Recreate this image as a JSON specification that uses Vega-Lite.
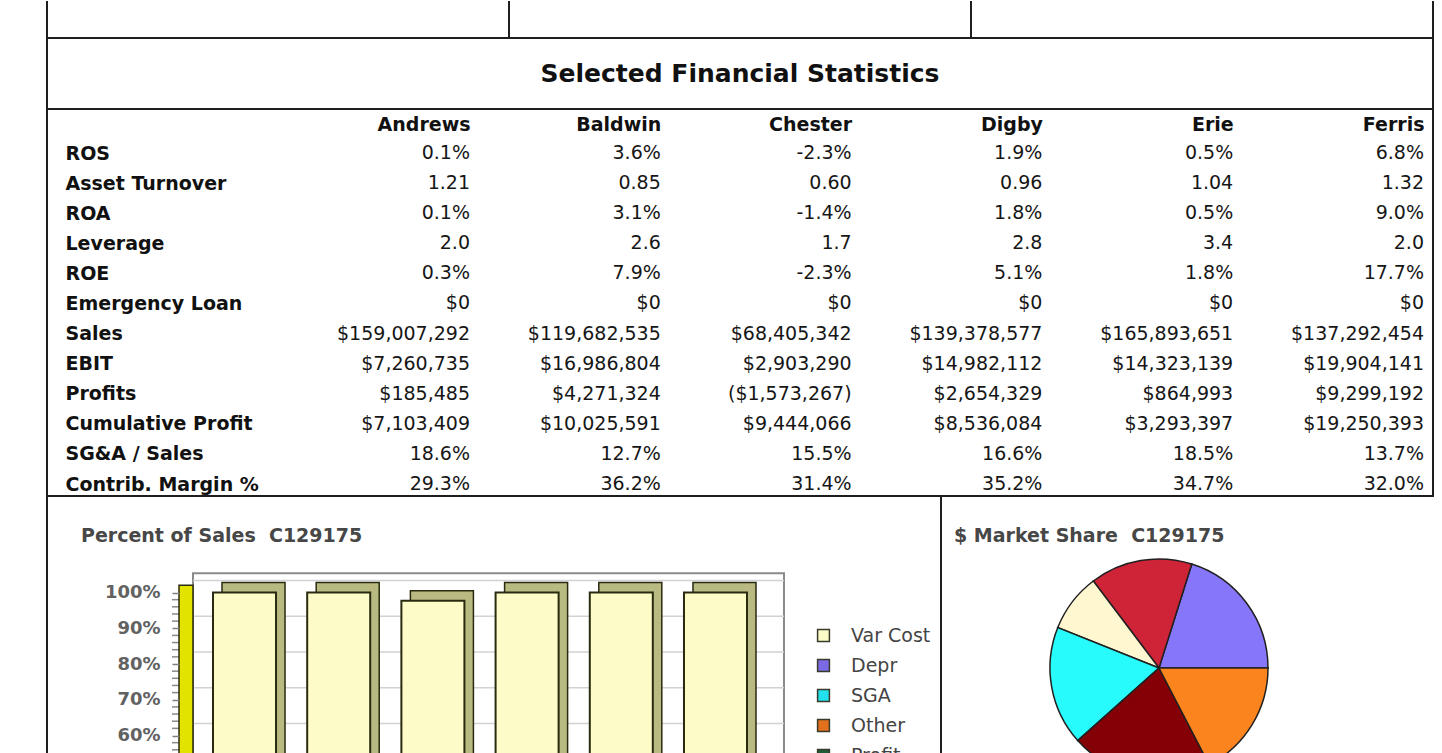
{
  "$schema": "https://vega.github.io/schema/vega-lite/v6.json",
  "background": "#ffffff",
  "padding": {"left": 46, "top": 0, "right": 0, "bottom": 0},
  "spacing": 0,
  "bounds": "flush",
  "config": {"font": "DejaVu Sans", "view": {"stroke": "#1e1e1e", "strokeWidth": 2}},
  "resolve": {"scale": {"color": "independent"}, "legend": {"color": "independent"}},
  "datasets": {
    "fin": [
      {"metric": "ROS", "Andrews": "0.1%", "Baldwin": "3.6%", "Chester": "-2.3%", "Digby": "1.9%", "Erie": "0.5%", "Ferris": "6.8%"},
      {"metric": "Asset Turnover", "Andrews": "1.21", "Baldwin": "0.85", "Chester": "0.60", "Digby": "0.96", "Erie": "1.04", "Ferris": "1.32"},
      {"metric": "ROA", "Andrews": "0.1%", "Baldwin": "3.1%", "Chester": "-1.4%", "Digby": "1.8%", "Erie": "0.5%", "Ferris": "9.0%"},
      {"metric": "Leverage", "Andrews": "2.0", "Baldwin": "2.6", "Chester": "1.7", "Digby": "2.8", "Erie": "3.4", "Ferris": "2.0"},
      {"metric": "ROE", "Andrews": "0.3%", "Baldwin": "7.9%", "Chester": "-2.3%", "Digby": "5.1%", "Erie": "1.8%", "Ferris": "17.7%"},
      {"metric": "Emergency Loan", "Andrews": "$0", "Baldwin": "$0", "Chester": "$0", "Digby": "$0", "Erie": "$0", "Ferris": "$0"},
      {"metric": "Sales", "Andrews": "$159,007,292", "Baldwin": "$119,682,535", "Chester": "$68,405,342", "Digby": "$139,378,577", "Erie": "$165,893,651", "Ferris": "$137,292,454"},
      {"metric": "EBIT", "Andrews": "$7,260,735", "Baldwin": "$16,986,804", "Chester": "$2,903,290", "Digby": "$14,982,112", "Erie": "$14,323,139", "Ferris": "$19,904,141"},
      {"metric": "Profits", "Andrews": "$185,485", "Baldwin": "$4,271,324", "Chester": "($1,573,267)", "Digby": "$2,654,329", "Erie": "$864,993", "Ferris": "$9,299,192"},
      {"metric": "Cumulative Profit", "Andrews": "$7,103,409", "Baldwin": "$10,025,591", "Chester": "$9,444,066", "Digby": "$8,536,084", "Erie": "$3,293,397", "Ferris": "$19,250,393"},
      {"metric": "SG&A / Sales", "Andrews": "18.6%", "Baldwin": "12.7%", "Chester": "15.5%", "Digby": "16.6%", "Erie": "18.5%", "Ferris": "13.7%"},
      {"metric": "Contrib. Margin %", "Andrews": "29.3%", "Baldwin": "36.2%", "Chester": "31.4%", "Digby": "35.2%", "Erie": "34.7%", "Ferris": "32.0%"}
    ],
    "cost": [
      {"company": "Andrews", "component": "Var Cost", "pct": 70.7},
      {"company": "Andrews", "component": "Depr", "pct": 6.5},
      {"company": "Andrews", "component": "SGA", "pct": 18.6},
      {"company": "Andrews", "component": "Other", "pct": 4.1},
      {"company": "Andrews", "component": "Profit", "pct": 0.1},
      {"company": "Baldwin", "component": "Var Cost", "pct": 63.8},
      {"company": "Baldwin", "component": "Depr", "pct": 10.6},
      {"company": "Baldwin", "component": "SGA", "pct": 12.7},
      {"company": "Baldwin", "component": "Other", "pct": 9.3},
      {"company": "Baldwin", "component": "Profit", "pct": 3.6},
      {"company": "Chester", "component": "Var Cost", "pct": 68.6},
      {"company": "Chester", "component": "Depr", "pct": 8.4},
      {"company": "Chester", "component": "SGA", "pct": 15.5},
      {"company": "Chester", "component": "Other", "pct": 5.2},
      {"company": "Chester", "component": "Profit", "pct": -2.3},
      {"company": "Digby", "component": "Var Cost", "pct": 64.8},
      {"company": "Digby", "component": "Depr", "pct": 9.0},
      {"company": "Digby", "component": "SGA", "pct": 16.6},
      {"company": "Digby", "component": "Other", "pct": 7.7},
      {"company": "Digby", "component": "Profit", "pct": 1.9},
      {"company": "Erie", "component": "Var Cost", "pct": 65.3},
      {"company": "Erie", "component": "Depr", "pct": 8.2},
      {"company": "Erie", "component": "SGA", "pct": 18.5},
      {"company": "Erie", "component": "Other", "pct": 7.5},
      {"company": "Erie", "component": "Profit", "pct": 0.5},
      {"company": "Ferris", "component": "Var Cost", "pct": 68.0},
      {"company": "Ferris", "component": "Depr", "pct": 7.0},
      {"company": "Ferris", "component": "SGA", "pct": 13.7},
      {"company": "Ferris", "component": "Other", "pct": 4.5},
      {"company": "Ferris", "component": "Profit", "pct": 6.8}
    ],
    "share": [
      {"company": "Andrews", "sales": 159007292},
      {"company": "Baldwin", "sales": 119682535},
      {"company": "Chester", "sales": 68405342},
      {"company": "Digby", "sales": 139378577},
      {"company": "Erie", "sales": 165893651},
      {"company": "Ferris", "sales": 137292454}
    ],
    "minor": [
      {"level": 2}, {"level": 4}, {"level": 6}, {"level": 8}, {"level": 12}, {"level": 14}, {"level": 16}, {"level": 18},
      {"level": 22}, {"level": 24}, {"level": 26}, {"level": 28}, {"level": 32}, {"level": 34}, {"level": 36}, {"level": 38},
      {"level": 42}, {"level": 44}, {"level": 46}, {"level": 48}, {"level": 52}, {"level": 54}, {"level": 56}, {"level": 58},
      {"level": 62}, {"level": 64}, {"level": 66}, {"level": 68}, {"level": 72}, {"level": 74}, {"level": 76}, {"level": 78},
      {"level": 82}, {"level": 84}, {"level": 86}, {"level": 88}, {"level": 92}, {"level": 94}, {"level": 96}, {"level": 98}
    ]
  },
  "vconcat": [
    {
      "width": 1386,
      "height": 37,
      "view": {"stroke": null},
      "data": {"values": [{"edge": 0}, {"edge": 1}, {"edge": 2}, {"edge": 3}]},
      "mark": {"type": "rule", "color": "#1e1e1e", "strokeWidth": 2},
      "encoding": {
        "x": {"field": "edge", "type": "quantitative", "scale": {"domain": [0, 3], "nice": false, "zero": false}, "axis": null}
      }
    },
    {
      "width": 1386,
      "height": 71,
      "data": {"values": [{"heading": "Selected Financial Statistics"}]},
      "mark": {"type": "text", "fontSize": 25, "fontWeight": "bold", "color": "#111111", "align": "center", "baseline": "middle"},
      "encoding": {
        "x": {"field": "heading", "type": "nominal", "axis": null},
        "y": {"field": "heading", "type": "nominal", "axis": null},
        "text": {"field": "heading", "type": "nominal"}
      }
    },
    {
      "width": 1386,
      "height": 387,
      "data": {"name": "fin"},
      "transform": [{"fold": ["Andrews", "Baldwin", "Chester", "Digby", "Erie", "Ferris"], "as": ["company", "value"]}],
      "mark": {"type": "text", "align": "right", "baseline": "middle", "fontSize": 19, "color": "#161616"},
      "encoding": {
        "x": {
          "field": "company", "type": "nominal",
          "scale": {"type": "point", "domain": ["Andrews", "Baldwin", "Chester", "Digby", "Erie", "Ferris"], "range": [423, 1377], "padding": 0},
          "axis": {"orient": "top", "title": null, "offset": -15, "ticks": false, "tickSize": 0, "domain": false, "grid": false, "labelAngle": 0, "labelPadding": 0, "labelAlign": "right", "labelBaseline": "middle", "labelFontSize": 19, "labelFontWeight": "bold", "labelColor": "#111111", "labelOverlap": false, "labelLimit": 400}
        },
        "y": {
          "field": "metric", "type": "nominal",
          "scale": {"type": "point", "domain": ["ROS", "Asset Turnover", "ROA", "Leverage", "ROE", "Emergency Loan", "Sales", "EBIT", "Profits", "Cumulative Profit", "SG&A / Sales", "Contrib. Margin %"], "padding": 0.9305, "align": 0.786},
          "axis": {"orient": "left", "title": null, "offset": -18, "ticks": false, "tickSize": 0, "domain": false, "grid": false, "labelAngle": 0, "labelPadding": 0, "labelAlign": "left", "labelBaseline": "middle", "labelFontSize": 19, "labelFontWeight": "bold", "labelColor": "#111111", "labelOverlap": false, "labelLimit": 400}
        },
        "text": {"field": "value", "type": "nominal"}
      }
    },
    {
      "spacing": 0,
      "bounds": "flush",
      "resolve": {"scale": {"color": "independent"}, "legend": {"color": "independent"}},
      "hconcat": [
        {
          "width": 894,
          "height": 454,
          "title": {"text": "Percent of Sales\u00a0 C129175", "anchor": "start", "frame": "group", "orient": "top", "offset": -59, "dx": 34, "fontSize": 19, "fontWeight": "bold", "color": "#474747", "baseline": "middle"},
          "layer": [
            {
              "data": {"values": [{"part": "back wall"}]},
              "mark": {"type": "rect", "fill": "#ffffff", "stroke": "#8a8a8a", "strokeWidth": 2, "xOffset": -20, "x2Offset": 100, "yOffset": -12, "y2Offset": -12},
              "encoding": {
                "x": {"datum": "Andrews", "type": "nominal", "bandPosition": 0, "scale": {"type": "band", "domain": ["Andrews", "Baldwin", "Chester", "Digby", "Erie", "Ferris"], "range": [166, 700], "paddingInner": 0.331, "paddingOuter": 0}, "axis": null},
                "x2": {"datum": "Ferris", "bandPosition": 0},
                "y": {"datum": 102, "type": "quantitative", "scale": {"domain": [0, 127], "nice": false, "zero": true}},
                "y2": {"datum": 0}
              }
            },
            {
              "data": {"values": [{"level": 10}, {"level": 20}, {"level": 30}, {"level": 40}, {"level": 50}, {"level": 60}, {"level": 70}, {"level": 80}, {"level": 90}, {"level": 100}]},
              "mark": {"type": "rule", "color": "#d2d2d2", "strokeWidth": 1.5, "xOffset": -20, "x2Offset": 100, "yOffset": -12},
              "encoding": {
                "x": {"datum": "Andrews", "type": "nominal", "bandPosition": 0, "scale": {"type": "band", "domain": ["Andrews", "Baldwin", "Chester", "Digby", "Erie", "Ferris"], "range": [166, 700], "paddingInner": 0.331, "paddingOuter": 0}, "axis": null},
                "x2": {"datum": "Ferris", "bandPosition": 0},
                "y": {"field": "level", "type": "quantitative", "scale": {"domain": [0, 127], "nice": false, "zero": true}}
              }
            },
            {
              "data": {"name": "minor"},
              "mark": {"type": "rule", "color": "#8a8a8a", "strokeWidth": 1.5, "xOffset": -41, "x2Offset": -34},
              "encoding": {
                "x": {"datum": "Andrews", "type": "nominal", "bandPosition": 0, "scale": {"type": "band", "domain": ["Andrews", "Baldwin", "Chester", "Digby", "Erie", "Ferris"], "range": [166, 700], "paddingInner": 0.331, "paddingOuter": 0}, "axis": null},
                "x2": {"datum": "Andrews", "bandPosition": 0},
                "y": {"field": "level", "type": "quantitative", "scale": {"domain": [0, 127], "nice": false, "zero": true}}
              }
            },
            {
              "data": {"values": [{"part": "side wall"}]},
              "mark": {"type": "rect", "fill": "#e3e300", "stroke": "#2a2a10", "strokeWidth": 1.5, "xOffset": -34, "x2Offset": -20},
              "encoding": {
                "x": {"datum": "Andrews", "type": "nominal", "bandPosition": 0, "scale": {"type": "band", "domain": ["Andrews", "Baldwin", "Chester", "Digby", "Erie", "Ferris"], "range": [166, 700], "paddingInner": 0.331, "paddingOuter": 0}, "axis": null},
                "x2": {"datum": "Andrews", "bandPosition": 0},
                "y": {"datum": 102, "type": "quantitative", "scale": {"domain": [0, 127], "nice": false, "zero": true}},
                "y2": {"datum": 0}
              }
            },
            {
              "data": {"name": "cost"},
              "mark": {"type": "bar", "fill": "#b9b982", "stroke": "#2a2a10", "strokeWidth": 1.5, "xOffset": 9, "x2Offset": 9, "yOffset": -10, "y2Offset": -10},
              "encoding": {
                "x": {"field": "company", "type": "nominal", "scale": {"type": "band", "domain": ["Andrews", "Baldwin", "Chester", "Digby", "Erie", "Ferris"], "range": [166, 700], "paddingInner": 0.331, "paddingOuter": 0}, "axis": null},
                "y": {"field": "pct", "type": "quantitative", "stack": "zero", "scale": {"domain": [0, 127], "nice": false, "zero": true}},
                "detail": {"field": "component", "type": "nominal"},
                "order": {"field": "component", "sort": "ascending"}
              }
            },
            {
              "data": {"name": "cost"},
              "mark": {"type": "bar", "stroke": "#2a2a10", "strokeWidth": 2, "opacity": 1},
              "encoding": {
                "x": {"field": "company", "type": "nominal", "scale": {"type": "band", "domain": ["Andrews", "Baldwin", "Chester", "Digby", "Erie", "Ferris"], "range": [166, 700], "paddingInner": 0.331, "paddingOuter": 0}, "axis": null},
                "y": {
                  "field": "pct", "type": "quantitative", "stack": "zero",
                  "scale": {"domain": [0, 127], "nice": false, "zero": true},
                  "axis": {"title": null, "orient": "left", "offset": -132, "zindex": 2, "domain": false, "grid": false,
                    "values": [0, 10, 20, 30, 40, 50, 60, 70, 80, 90, 100],
                    "labelExpr": "datum.value + '%'",
                    "tickSize": 7, "tickColor": "#808080", "tickWidth": 1.5, "labelFontSize": 18, "labelFontWeight": "bold", "labelColor": "#626262", "labelPadding": 12, "labelOverlap": false, "labelBaseline": "middle"}
                },
                "color": {
                  "field": "component", "type": "nominal",
                  "scale": {"domain": ["Var Cost", "Depr", "SGA", "Other", "Profit"], "range": ["#fdfcc8", "#7b6ae6", "#22e0ec", "#e2701c", "#1f5c38"]},
                  "legend": {"title": null, "orient": "none", "legendX": 767, "legendY": 130, "symbolType": "square", "symbolSize": 140, "symbolStrokeColor": "#3a3a2a", "symbolStrokeWidth": 1.5, "symbolOpacity": 1, "labelFontSize": 19, "labelColor": "#444444", "rowPadding": 10, "labelOffset": 18}
                },
                "order": {"field": "component", "sort": "ascending"}
              }
            }
          ]
        },
        {
          "width": 492,
          "height": 344,
          "title": {"text": "$ Market Share\u00a0 C129175", "anchor": "start", "frame": "group", "orient": "top", "offset": -59, "dx": 13, "fontSize": 19, "fontWeight": "bold", "color": "#474747", "baseline": "middle"},
          "data": {"name": "share"},
          "mark": {"type": "arc", "radius": 109, "stroke": "#202020", "strokeWidth": 1.5, "xOffset": -28},
          "encoding": {
            "theta": {"field": "sales", "type": "quantitative", "stack": true, "scale": {"range": [1.5708, -4.7124]}},
            "color": {
              "field": "company", "type": "nominal",
              "scale": {"domain": ["Andrews", "Baldwin", "Chester", "Digby", "Erie", "Ferris"], "range": ["#8676fa", "#cf2338", "#fff7cf", "#27fbfb", "#850006", "#fb841e"]},
              "legend": null
            },
            "order": {"field": "company", "sort": "ascending"}
          }
        }
      ]
    }
  ]
}
